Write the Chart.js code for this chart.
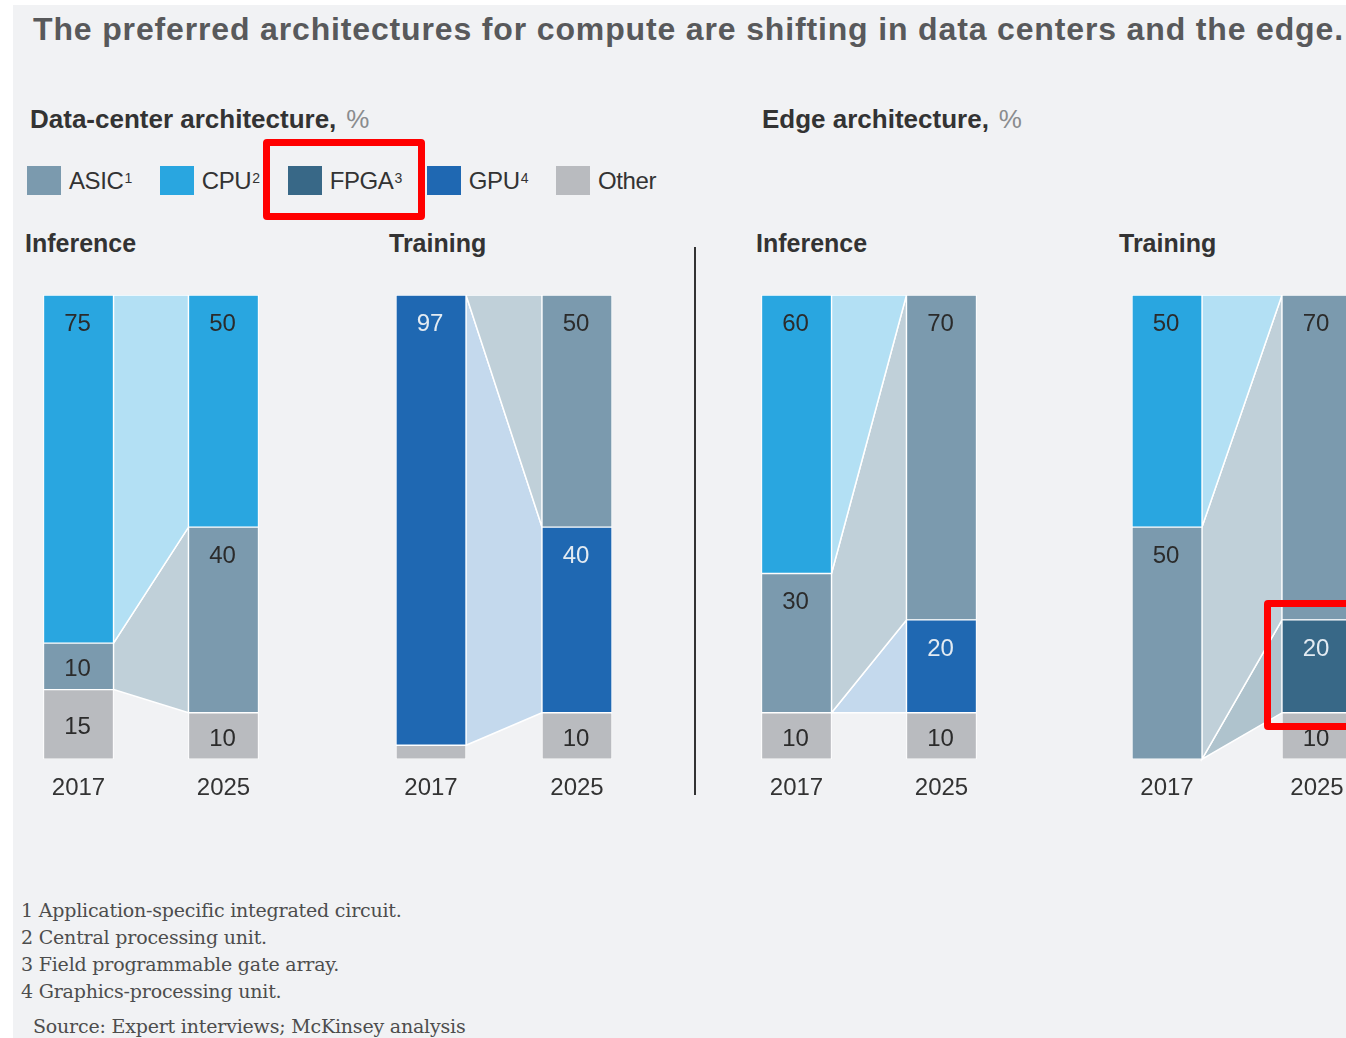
<!DOCTYPE html>
<html>
<head>
<meta charset="utf-8">
<script src="https://cdn.jsdelivr.net/npm/chart.js@4.4.1/dist/chart.umd.min.js"></script>
<style>
  html, body { margin: 0; padding: 0; background: #fff; }
  body { width: 1346px; height: 1038px; position: relative; overflow: hidden;
         font-family: "Liberation Sans", Arial, sans-serif; color: #333; }
  #sheet { position: absolute; left: 13px; top: 5px; right: 0; bottom: 0; background: #f1f2f4; }
  .abs { position: absolute; white-space: nowrap; line-height: 1; }
  .title { left: 33px; top: 13px; font-size: 32px; font-weight: bold; color: #58595b; letter-spacing: 0.85px; }
  .section { font-size: 26px; font-weight: bold; color: #333; }
  .section span { font-weight: normal; color: #8a8c8e; margin-left: 10px; }
  .panel { font-size: 25px; font-weight: bold; color: #333; }
  #legend { position: absolute; left: 27px; top: 166px; display: flex; align-items: center; }
  .item { display: flex; align-items: center; margin-right: 28px; font-size: 24px; color: #333; letter-spacing: -0.4px; }
  .item:nth-child(3) { margin-right: 25px; }
  .sw { width: 34px; height: 29px; margin-right: 8px; }
  .item sup { font-size: 14px; position: relative; top: -3px; margin-left: 1px; }
  .chart { position: absolute; top: 295px; height: 523px; }
  .divider { position: absolute; left: 694px; top: 247px; width: 2px; height: 548px; background: #333; }
  .notes { position: absolute; left: 21px; top: 897px; font-family: "DejaVu Serif", "Liberation Serif", serif;
           font-size: 19px; line-height: 27px; color: #4d4d4d; letter-spacing: -0.2px; }
  .source { position: absolute; left: 33px; top: 1015px; font-family: "DejaVu Serif", "Liberation Serif", serif;
            font-size: 19px; color: #4d4d4d; white-space: nowrap; letter-spacing: -0.2px; }
  .mark { position: absolute; border: 7px solid #f00; border-radius: 4px; box-sizing: border-box; }
</style>
</head>
<body>
<div id="sheet"></div>
<div class="abs title">The preferred architectures for compute are shifting in data centers and the edge.</div>

<div class="abs section" style="left:30px; top:106px;">Data-center architecture,<span>%</span></div>
<div class="abs section" style="left:762px; top:106px;">Edge architecture,<span>%</span></div>

<div id="legend"></div>

<div class="abs panel" style="left:25px; top:231px;">Inference</div>
<div class="abs panel" style="left:389px; top:231px;">Training</div>
<div class="abs panel" style="left:756px; top:231px;">Inference</div>
<div class="abs panel" style="left:1119px; top:231px;">Training</div>

<div class="chart" style="left:6px; width:290px;"><canvas id="dcInference"></canvas></div>
<div class="chart" style="left:358px; width:292px;"><canvas id="dcTraining"></canvas></div>
<div class="divider"></div>
<div class="chart" style="left:724px; width:290px;"><canvas id="edgeInference"></canvas></div>
<div class="chart" style="left:1092px; width:300px;"><canvas id="edgeTraining"></canvas></div>

<div class="notes">
  <div>1 Application-specific integrated circuit.</div>
  <div>2 Central processing unit.</div>
  <div>3 Field programmable gate array.</div>
  <div>4 Graphics-processing unit.</div>
</div>
<div class="source">Source: Expert interviews; McKinsey analysis</div>

<div class="mark" style="left:263px; top:139px; width:162px; height:81px;"></div>
<div class="mark" style="left:1264px; top:600px; width:100px; height:130px;"></div>

<script>
// Share of compute by architecture, %, for 2017 and 2025
const years = ['2017', '2025'];

// bottom-to-top stacking order used by every panel
const stackOrder = ['Other', 'FPGA', 'GPU', 'ASIC', 'CPU'];

// legend order and footnote markers
const legendOrder = ['ASIC', 'CPU', 'FPGA', 'GPU', 'Other'];
const legendNotes = ['1', '2', '3', '4', ''];

// [2017, 2025] per series, in stackOrder
const dcInference   = [[15, 10], [0, 0],  [0, 0],   [10, 40], [75, 50]];
const dcTraining    = [[3, 10],  [0, 0],  [97, 40], [0, 50],  [0, 0]];
const edgeInference = [[10, 10], [0, 0],  [0, 20],  [30, 70], [60, 0]];
const edgeTraining  = [[0, 10],  [0, 20], [0, 0],   [50, 70], [50, 0]];

const barColors = {
    ASIC: '#7b9aae',
    CPU: '#29a6e0',
    FPGA: '#386887',
    GPU: '#1f68b2',
    Other: '#b9bbbf'
};

// lighter fill for the band joining the two years (Other has none)
const bandColors = {
    ASIC: '#c0d0d9',
    CPU: '#b3e0f4',
    FPGA: '#afc3cd',
    GPU: '#c4d9ed'
};

const labelColors = {
    ASIC: '#2b2b2b',
    CPU: '#2b2b2b',
    FPGA: '#e3ebf2',
    GPU: '#e3ebf2',
    Other: '#2b2b2b'
};

// legend
const legendEl = document.getElementById('legend');
legendOrder.forEach((name, i) => {
    const item = document.createElement('div');
    item.className = 'item';
    item.innerHTML = '<div class="sw" style="background:' + barColors[name] + '"></div>' +
        name + (legendNotes[i] ? '<sup>' + legendNotes[i] + '</sup>' : '');
    legendEl.appendChild(item);
});

// trapezoids between the 2017 and 2025 segments of each series
const flowBands = {
    id: 'flowBands',
    beforeDatasetsDraw(chart) {
        const ctx = chart.ctx;
        chart.data.datasets.forEach((ds, i) => {
            if (!ds.bandColor) return;
            if (ds.data[0] === 0 && ds.data[1] === 0) return;
            const [a, b] = chart.getDatasetMeta(i).data;
            const p = a.getProps(['x', 'y', 'base', 'width'], true);
            const q = b.getProps(['x', 'y', 'base', 'width'], true);
            const x0 = p.x + p.width / 2;
            const x1 = q.x - q.width / 2;
            ctx.save();
            ctx.beginPath();
            ctx.moveTo(x0, p.y);
            ctx.lineTo(x1, q.y);
            ctx.lineTo(x1, q.base);
            ctx.lineTo(x0, p.base);
            ctx.closePath();
            ctx.fillStyle = ds.bandColor;
            ctx.fill();
            ctx.strokeStyle = '#ffffff';
            ctx.lineWidth = 1.5;
            ctx.stroke();
            ctx.restore();
        });
    }
};

// value printed near the top of tall segments, centred in short ones
const segmentLabels = {
    id: 'segmentLabels',
    afterDatasetsDraw(chart) {
        const ctx = chart.ctx;
        ctx.save();
        ctx.font = '24px "Liberation Sans", Arial, sans-serif';
        ctx.textAlign = 'center';
        ctx.textBaseline = 'middle';
        chart.data.datasets.forEach((ds, i) => {
            chart.getDatasetMeta(i).data.forEach((bar, j) => {
                const v = ds.data[j];
                if (v < 5) return;
                const p = bar.getProps(['x', 'y', 'base'], true);
                const h = p.base - p.y;
                const cy = h < 80 ? p.y + h / 2 + 3 : p.y + 29;
                ctx.fillStyle = ds.labelColor;
                ctx.fillText(String(v), p.x - 1, cy);
            });
        });
        ctx.restore();
    }
};

function makePanel(canvasId, values) {
    const datasets = stackOrder.map((name, i) => ({
        label: name,
        data: values[i],
        backgroundColor: barColors[name],
        borderColor: '#ffffff',
        borderWidth: 1,
        borderSkipped: false,
        barThickness: 70,
        bandColor: bandColors[name] || null,
        labelColor: labelColors[name]
    }));

    return new Chart(document.getElementById(canvasId), {
        type: 'bar',
        data: { labels: years, datasets: datasets },
        options: {
            responsive: true,
            maintainAspectRatio: false,
            animation: false,
            layout: { padding: 0 },
            plugins: {
                legend: { display: false },
                tooltip: { enabled: false }
            },
            scales: {
                x: {
                    stacked: true,
                    grid: { display: false, drawTicks: false },
                    border: { display: false },
                    ticks: {
                        color: '#333',
                        padding: 15,
                        font: { family: '"Liberation Sans", Arial, sans-serif', size: 24 }
                    }
                },
                y: {
                    stacked: true,
                    min: 0,
                    max: 100,
                    display: false
                }
            }
        },
        plugins: [flowBands, segmentLabels]
    });
}

makePanel('dcInference', dcInference);
makePanel('dcTraining', dcTraining);
makePanel('edgeInference', edgeInference);
makePanel('edgeTraining', edgeTraining);
</script>
</body>
</html>
